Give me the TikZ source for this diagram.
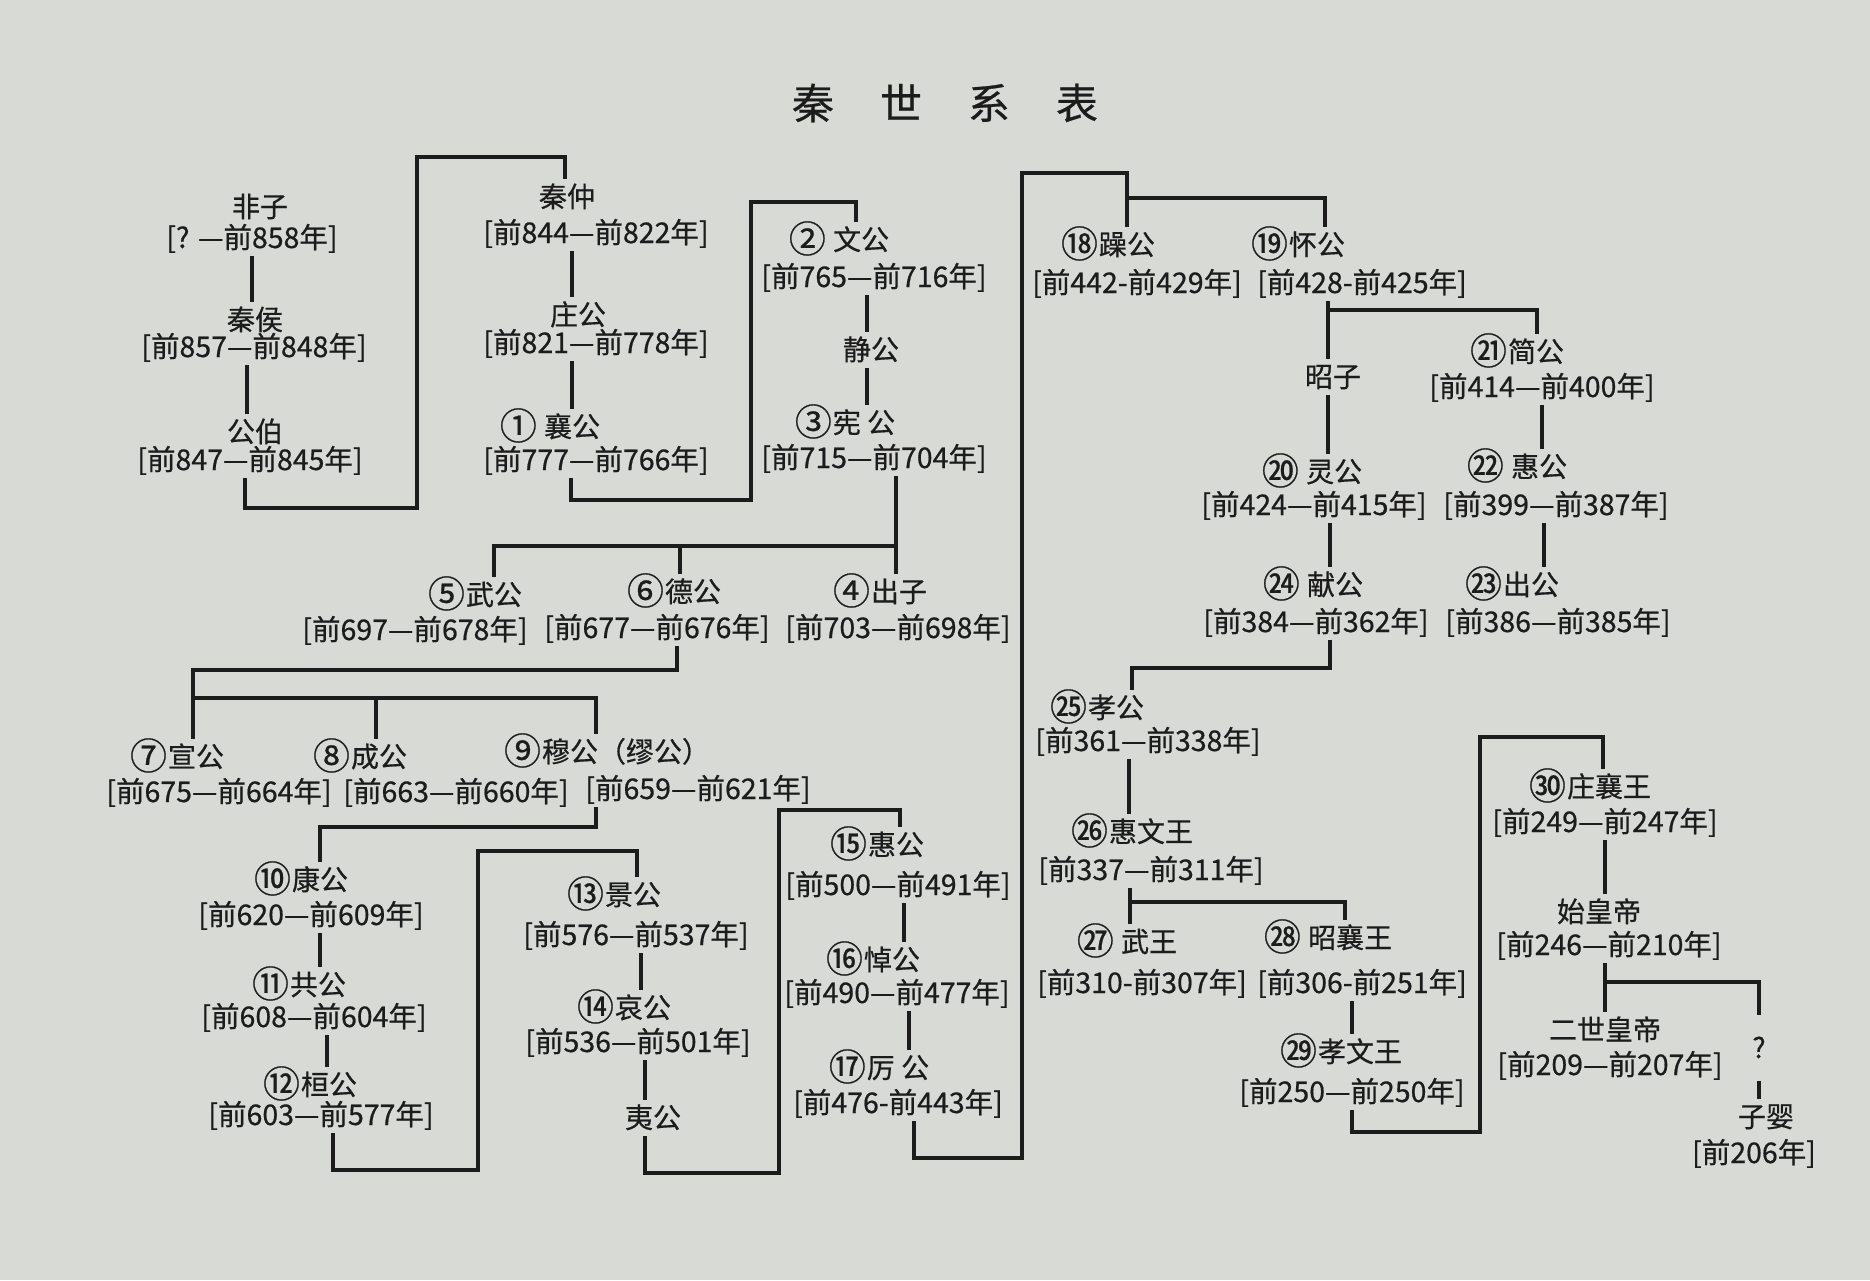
\documentclass[tikz,border=0pt]{standalone}
\usepackage{graphicx}
\usepackage{fontspec}
\setmainfont{Noto Sans CJK SC}
\newfontfamily\plumpfont{Noto Sans CJK SC}[FakeBold=0.6]
\definecolor{paper}{RGB}{216,218,214}
\definecolor{ink}{RGB}{28,28,28}
\newcommand{\circno}[1]{\raisebox{-2.5pt}{\scalebox{1.32}{#1}}\kern1pt}

\begin{document}
\begin{tikzpicture}[x=1pt, y=-1pt,
        every node/.style={text=ink, inner xsep=2pt, inner ysep=5pt,
                           text height=23pt, text depth=3pt},
        ruler/.style={font=\plumpfont\fontsize{28}{30}\selectfont},
        reign/.style={font=\plumpfont\fontsize{28.5}{30}\selectfont},
        heading/.style={font=\plumpfont\fontsize{42}{46}\selectfont,
                        text height=35pt, text depth=3pt},
        link/.style={draw=ink, line width=3.1pt}]
    \fill[paper] (0,0) rectangle (1870,1280);
    \node[heading] (title) at (945,103) {秦\hspace{46pt}世\hspace{46pt}系\hspace{46pt}表};

    % 非子 -- 公伯
    \node[ruler] (n0) at (260,207) {非子};
    \node[reign] (d0) at (252,238) {[? —前858年]};
    \node[ruler] (n1) at (255,320) {秦侯};
    \node[reign] (d1) at (254,347) {[前857—前848年]};
    \node[ruler] (n2) at (255,432) {公伯};
    \node[reign] (d2) at (250,460) {[前847—前845年]};

    % 秦仲 -- 襄公
    \node[ruler] (n3) at (567,197) {秦仲};
    \node[reign] (d3) at (596,233) {[前844—前822年]};
    \node[ruler] (n4) at (578,315) {庄公};
    \node[reign] (d4) at (596,343) {[前821—前778年]};
    \node[ruler] (n5) at (550,427) {\circno{①}\ 襄公};
    \node[reign] (d5) at (596,460) {[前777—前766年]};

    % 文公 -- 宪公
    \node[ruler] (n6) at (839,240) {\circno{②}\ 文公};
    \node[reign] (d6) at (874,277) {[前765—前716年]};
    \node[ruler] (n7) at (871,350) {静公};
    \node[ruler] (n8) at (845,423) {\circno{③}宪 公};
    \node[reign] (d8) at (874,458) {[前715—前704年]};

    % sons of 宪公
    \node[ruler] (n9) at (475,595) {\circno{⑤}武公};
    \node[reign] (d9) at (415,630) {[前697—前678年]};
    \node[ruler] (n10) at (674,592) {\circno{⑥}德公};
    \node[reign] (d10) at (657,628) {[前677—前676年]};
    \node[ruler] (n11) at (880,592) {\circno{④}出子};
    \node[reign] (d11) at (898,628) {[前703—前698年]};

    % sons of 德公
    \node[ruler] (n12) at (177,757) {\circno{⑦}宣公};
    \node[reign] (d12) at (219,792) {[前675—前664年]};
    \node[ruler] (n13) at (360,757) {\circno{⑧}成公};
    \node[reign] (d13) at (456,792) {[前663—前660年]};
    \node[ruler] (n14) at (607,752) {\circno{⑨}穆公（缪公）};
    \node[reign] (d14) at (698,789) {[前659—前621年]};

    % 康公 -- 桓公
    \node[ruler] (n15) at (301,880) {\circno{⑩}康公};
    \node[reign] (d15) at (311,915) {[前620—前609年]};
    \node[ruler] (n16) at (299,985) {\circno{⑪}共公};
    \node[reign] (d16) at (314,1017) {[前608—前604年]};
    \node[ruler] (n17) at (310,1085) {\circno{⑫}桓公};
    \node[reign] (d17) at (321,1115) {[前603—前577年]};

    % 景公 -- 夷公
    \node[ruler] (n18) at (614,895) {\circno{⑬}景公};
    \node[reign] (d18) at (636,935) {[前576—前537年]};
    \node[ruler] (n19) at (624,1008) {\circno{⑭}哀公};
    \node[reign] (d19) at (638,1042) {[前536—前501年]};
    \node[ruler] (n20) at (653,1118) {夷公};

    % 惠公 -- 厉公
    \node[ruler] (n21) at (877,845) {\circno{⑮}惠公};
    \node[reign] (d21) at (898,885) {[前500—前491年]};
    \node[ruler] (n22) at (873,960) {\circno{⑯}悼公};
    \node[reign] (d22) at (897,993) {[前490—前477年]};
    \node[ruler] (n23) at (879,1068) {\circno{⑰}厉 公};
    \node[reign] (d23) at (898,1103) {[前476-前443年]};

    % 躁公, 怀公
    \node[ruler] (n24) at (1108,245) {\circno{⑱}躁公};
    \node[reign] (d24) at (1137,283) {[前442-前429年]};
    \node[ruler] (n25) at (1298,245) {\circno{⑲}怀公};
    \node[reign] (d25) at (1362,283) {[前428-前425年]};

    % 昭子 -- 献公, 简公 -- 出公
    \node[ruler] (n26) at (1333,377) {昭子};
    \node[ruler] (n27) at (1517,352) {\circno{㉑}简公};
    \node[reign] (d27) at (1542,387) {[前414—前400年]};
    \node[ruler] (n28) at (1312,472) {\circno{⑳}\ 灵公};
    \node[reign] (d28) at (1314,505) {[前424—前415年]};
    \node[ruler] (n29) at (1517,467) {\circno{㉒}\ 惠公};
    \node[reign] (d29) at (1556,505) {[前399—前387年]};
    \node[ruler] (n30) at (1313,585) {\circno{㉔}\ 献公};
    \node[reign] (d30) at (1316,622) {[前384—前362年]};
    \node[ruler] (n31) at (1512,585) {\circno{㉓}出公};
    \node[reign] (d31) at (1558,622) {[前386—前385年]};

    % 孝公 -- 孝文王
    \node[ruler] (n32) at (1097,708) {\circno{㉕}孝公};
    \node[reign] (d32) at (1148,741) {[前361—前338年]};
    \node[ruler] (n33) at (1132,832) {\circno{㉖}惠文王};
    \node[reign] (d33) at (1151,870) {[前337—前311年]};
    \node[ruler] (n34) at (1127,942) {\circno{㉗}\ 武王};
    \node[reign] (d34) at (1142,983) {[前310-前307年]};
    \node[ruler] (n35) at (1328,938) {\circno{㉘}\ 昭襄王};
    \node[reign] (d35) at (1362,983) {[前306-前251年]};
    \node[ruler] (n36) at (1341,1052) {\circno{㉙}孝文王};
    \node[reign] (d36) at (1352,1092) {[前250—前250年]};

    % 庄襄王 -- 子婴
    \node[ruler] (n37) at (1590,787) {\circno{㉚}庄襄王};
    \node[reign] (d37) at (1605,822) {[前249—前247年]};
    \node[ruler] (n38) at (1599,912) {始皇帝};
    \node[reign] (d38) at (1609,945) {[前246—前210年]};
    \node[ruler] (n39) at (1605,1030) {二世皇帝};
    \node[reign] (d39) at (1610,1065) {[前209—前207年]};
    \node[ruler, inner ysep=20pt] (n40) at (1759,1048) {?};
    \node[ruler] (n41) at (1766,1117) {子婴};
    \node[reign] (d41) at (1754,1153) {[前206年]};

    % links
    \draw[link] (d0.south) -- (d0.south |- n1.north);
    \draw[link] ([xshift=-7pt]d1.south) -- ([xshift=-7pt]d1.south |- n2.north);
    \coordinate (a1) at (417,508);
    \coordinate (a2) at (417,157);
    \draw[link] ([xshift=-5pt]d2.south) |- (a1) -- (a2) -| ([xshift=-2pt]n3.north);

    \draw[link] ([xshift=-24pt]d3.south) -- ([xshift=-24pt]d3.south |- n4.north);
    \draw[link] ([xshift=-24pt]d4.south) -- ([xshift=-24pt]d4.south |- n5.north);
    \coordinate (b1) at (751,500);
    \coordinate (b2) at (751,202);
    \draw[link] ([xshift=-25pt]d5.south) |- (b1) -- (b2) -| ([xshift=17pt]n6.north);

    \draw[link] ([xshift=-7pt]d6.south) -- ([xshift=-7pt]d6.south |- n7.north);
    \draw[link] ([xshift=-4pt]n7.south) -- ([xshift=-4pt]n7.south |- n8.north);
    \draw[link] ([xshift=22pt]d8.south) -- ([xshift=22pt]d8.south |- n11.north);
    \coordinate (c1) at (896,546);
    \draw[link] (c1) -| ([xshift=19pt]n9.north);
    \draw[link] (c1) -| ([xshift=6pt]n10.north);

    \coordinate (c2) at (193,670);
    \coordinate (c3) at (193,698);
    \draw[link] ([xshift=20pt]d10.south) |- (c2) -- ([xshift=16pt]n12.north);
    \draw[link] (c3) -| ([xshift=16pt]n13.north);
    \draw[link] (c3) -| ([xshift=-11pt]n14.north);

    \coordinate (e1) at (320,827);
    \draw[link] ([xshift=-102pt]d14.south) |- (e1) -- ([xshift=19pt]n15.north);
    \draw[link] ([xshift=9pt]d15.south) -- ([xshift=9pt]d15.south |- n16.north);
    \draw[link] ([xshift=13pt]d16.south) -- ([xshift=13pt]d16.south |- n17.north);
    \coordinate (e2) at (478,1170);
    \coordinate (e3) at (478,851);
    \draw[link] ([xshift=12pt]d17.south) |- (e2) -- (e3) -| ([xshift=23pt]n18.north);

    \draw[link] ([xshift=5pt]d18.south) -- ([xshift=5pt]d18.south |- n19.north);
    \draw[link] ([xshift=7pt]d19.south) -- ([xshift=7pt]d19.south |- n20.north);
    \coordinate (f1) at (779,1173);
    \coordinate (f2) at (779,810);
    \draw[link] ([xshift=-8pt]n20.south) |- (f1) -- (f2) -| ([xshift=23pt]n21.north);

    \draw[link] ([xshift=6pt]d21.south) -- ([xshift=6pt]d21.south |- n22.north);
    \draw[link] ([xshift=12pt]d22.south) -- ([xshift=12pt]d22.south |- n23.north);
    \coordinate (g1) at (1022,1158);
    \coordinate (g2) at (1022,173);
    \draw[link] ([xshift=16pt]d23.south) |- (g1) -- (g2) -| ([xshift=19pt]n24.north);
    \coordinate (g3) at (1127,198);
    \draw[link] (g3) -| ([xshift=27pt]n25.north);

    \draw[link] ([xshift=-34pt]d25.south) -- ([xshift=-34pt]d25.south |- n26.north);
    \coordinate (h1) at (1328,310);
    \draw[link] (h1) -| ([xshift=20pt]n27.north);
    \draw[link] ([xshift=-5pt]n26.south) -- ([xshift=-5pt]n26.south |- n28.north);
    \draw[link] (d27.south) -- (d27.south |- n29.north);
    \draw[link] ([xshift=16pt]d28.south) -- ([xshift=16pt]d28.south |- n30.north);
    \draw[link] ([xshift=-12pt]d29.south) -- ([xshift=-12pt]d29.south |- n31.north);
    \coordinate (h2) at (1132,668);
    \draw[link] ([xshift=14pt]d30.south) |- (h2) -- ([xshift=35pt]n32.north);

    \draw[link] ([xshift=-19pt]d32.south) -- ([xshift=-19pt]d32.south |- n33.north);
    \draw[link] ([xshift=-21pt]d33.south) -- ([xshift=-21pt]d33.south |- n34.north);
    \coordinate (k1) at (1130,902);
    \draw[link] (k1) -| ([xshift=17pt]n35.north);
    \draw[link] ([xshift=-10pt]d35.south) -- ([xshift=-10pt]d35.south |- n36.north);
    \coordinate (k2) at (1480,1132);
    \coordinate (k3) at (1480,737);
    \draw[link] (d36.south) |- (k2) -- (k3) -| ([xshift=13pt]n37.north);

    \draw[link] (d37.south) -- (d37.south |- n38.north);
    \draw[link] ([xshift=-4pt]d38.south) -- ([xshift=-4pt]d38.south |- n39.north);
    \coordinate (m1) at (1605,982);
    \draw[link] (m1) -| (n40.north);
    \draw[link] (n40.south) -- (n40.south |- n41.north);
\end{tikzpicture}
\end{document}
